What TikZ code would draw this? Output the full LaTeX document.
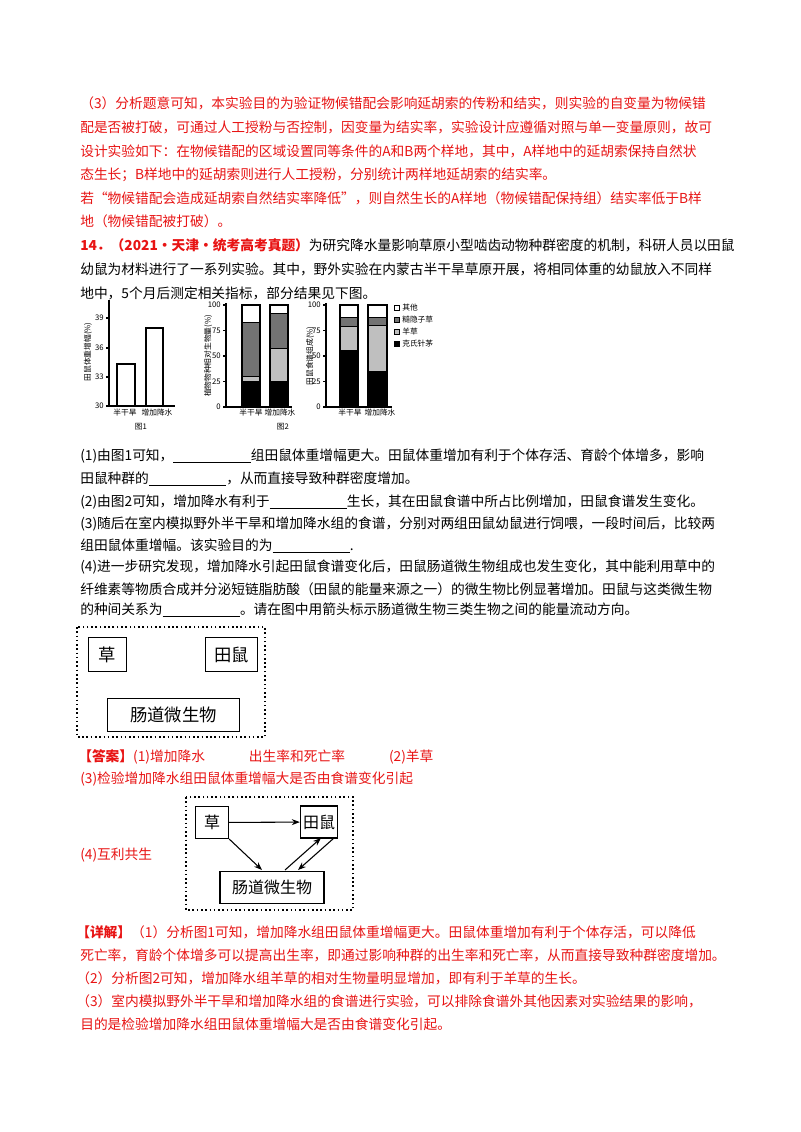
\documentclass[tikz,border=0pt]{standalone}
\usepackage{fontspec}
\setmainfont{Noto Sans CJK SC}
\usetikzlibrary{arrows.meta}
\definecolor{ans}{RGB}{232,20,20}
\newcommand{\blank}[1][58pt]{\underline{\hspace{#1}}}
\begin{document}
\begin{tikzpicture}[x=0.75pt,y=-0.75pt,
  txt/.style={anchor=west,inner sep=0pt,font=\fontsize{10.3}{12}\selectfont},
  rtxt/.style={txt,text=ans},
  sm/.style={inner sep=0pt,font=\fontsize{5.8}{6}\selectfont},
  bx/.style={draw,thick,minimum height=25pt,inner sep=2pt,font=\fontsize{13}{14}\selectfont},
  bxs/.style={draw,thick,minimum height=24pt,inner sep=2pt,font=\fontsize{12}{13}\selectfont},
  ar/.style={-{Stealth[length=6pt]},thick},
  dk/.style={fill=black!55,draw=black,thick},
  lt/.style={fill=black!25,draw=black,thick},
  bk/.style={fill=black,draw=black,thick},
  wt/.style={fill=white,draw=black,thick}]
\useasboundingbox (0,0) rectangle (800,1132);
\fill[white] (0,0) rectangle (800,1132);
% text
\node[rtxt] (l1) at (80,103) {（3）分析题意可知，本实验目的为验证物候错配会影响延胡索的传粉和结实，则实验的自变量为物候错};
\node[rtxt] (l2) at (80,127) {配是否被打破，可通过人工授粉与否控制，因变量为结实率，实验设计应遵循对照与单一变量原则，故可};
\node[rtxt] (l3) at (80,151) {设计实验如下：在物候错配的区域设置同等条件的A和B两个样地，其中，A样地中的延胡索保持自然状};
\node[rtxt] (l4) at (80,175) {态生长；B样地中的延胡索则进行人工授粉，分别统计两样地延胡索的结实率。};
\node[rtxt] (l5) at (80,198) {若“物候错配会造成延胡索自然结实率降低”，则自然生长的A样地（物候错配保持组）结实率低于B样};
\node[rtxt] (l6) at (80,221) {地（物候错配被打破）。};
\node[txt] (l7) at (80,245) {{\color{ans}\bfseries 14．（2021·天津·统考高考真题）}为研究降水量影响草原小型啮齿动物种群密度的机制，科研人员以田鼠};
\node[txt] (l8) at (80,269) {幼鼠为材料进行了一系列实验。其中，野外实验在内蒙古半干旱草原开展，将相同体重的幼鼠放入不同样};
\node[txt] (l9) at (80,293) {地中，5个月后测定相关指标，部分结果见下图。};
% chart 1
\draw[thick] (109,300) -- (109,406) -- (175,406);
\foreach \v/\yy in {39/318,36/348,33/377,30/406}{\draw[thick] (106,\yy)--(109,\yy); \node[sm,anchor=east] at (104,\yy) {\v};}
\draw[wt] (117,406) rectangle (135,364);
\draw[wt] (146,406) rectangle (163,328);
\node[sm,rotate=90] (y1) at (88,352) {田鼠体重增幅(\%)};
\node[sm] at (125,413) {半干旱}; \node[sm] at (157,413) {增加降水};
\node[sm] at (141,427) {图1};
% chart 2
\draw[thick] (226,303) -- (226,407) -- (292,407);
\foreach \v/\yy in {100/305,75/330.5,50/356,25/381.5,0/407}{\draw[thick] (223,\yy)--(226,\yy); \node[sm,anchor=east] at (221,\yy) {\v};}
\draw[bk] (242,407) rectangle (260,381.5); \draw[lt] (242,381.5) rectangle (260,376.4);
\draw[dk] (242,376.4) rectangle (260,322.3); \draw[wt] (242,322.3) rectangle (260,305);
\draw[bk] (270,407) rectangle (288,381.5); \draw[lt] (270,381.5) rectangle (288,348.9);
\draw[dk] (270,348.9) rectangle (288,313.2); \draw[wt] (270,313.2) rectangle (288,305);
\node[sm,rotate=90] at (208,356) {植物物种相对生物量(\%)};
\node[sm] at (251,413) {半干旱}; \node[sm] at (280,413) {增加降水};
\node[sm] at (283,427) {图2};
% chart 3
\draw[thick] (326,303) -- (326,407) -- (392,407);
\foreach \v/\yy in {100/305,75/330.5,50/356,25/381.5,0/407}{\draw[thick] (323,\yy)--(326,\yy); \node[sm,anchor=east] at (321,\yy) {\v};}
\draw[bk] (340,407) rectangle (358,350.9); \draw[lt] (340,350.9) rectangle (358,326.4);
\draw[dk] (340,326.4) rectangle (358,317.2); \draw[wt] (340,317.2) rectangle (358,305);
\draw[bk] (368,407) rectangle (387,371.3); \draw[lt] (368,371.3) rectangle (387,325.4);
\draw[dk] (368,325.4) rectangle (387,317.2); \draw[wt] (368,317.2) rectangle (387,305);
\node[sm,rotate=90] at (310,356) {田鼠食谱组成(\%)};
\node[sm] at (350,413) {半干旱}; \node[sm] at (380,413) {增加降水};
\draw[wt,thin] (394,305) rectangle (399,310); \node[sm,anchor=west] at (402,308) {其他};
\draw[dk,thin] (394,317) rectangle (399,322); \node[sm,anchor=west] at (402,320) {糙隐子草};
\draw[lt,thin] (394,329) rectangle (399,334); \node[sm,anchor=west] at (402,332) {羊草};
\draw[bk,thin] (394,341) rectangle (399,346); \node[sm,anchor=west] at (402,344) {克氏针茅};
% questions
\node[txt] (q1) at (80,456) {(1)由图1可知，\blank{}组田鼠体重增幅更大。田鼠体重增加有利于个体存活、育龄个体增多，影响};
\node[txt] (q2) at (80,479) {田鼠种群的\blank{}，从而直接导致种群密度增加。};
\node[txt] (q3) at (80,502) {(2)由图2可知，增加降水有利于\blank{}生长，其在田鼠食谱中所占比例增加，田鼠食谱发生变化。};
\node[txt] (q4) at (80,524) {(3)随后在室内模拟野外半干旱和增加降水组的食谱，分别对两组田鼠幼鼠进行饲喂，一段时间后，比较两};
\node[txt] (q5) at (80,546) {组田鼠体重增幅。该实验目的为\blank{}.};
\node[txt] (q6) at (80,567) {(4)进一步研究发现，增加降水引起田鼠食谱变化后，田鼠肠道微生物组成也发生变化，其中能利用草中的};
\node[txt] (q7) at (80,589) {纤维素等物质合成并分泌短链脂肪酸（田鼠的能量来源之一）的微生物比例显著增加。田鼠与这类微生物};
\node[txt] (q8) at (80,610) {的种间关系为\blank{}。请在图中用箭头标示肠道微生物三类生物之间的能量流动方向。};
% diagram 1
\draw[very thick,dotted] (77,627) rectangle (265,737);
\node[bx,minimum width=29pt] (c1) at (107.5,654.5) {草};
\node[bx,minimum width=39pt] (t1) at (231.5,654.5) {田鼠};
\node[bx,minimum width=99pt] (m1) at (173.5,715) {肠道微生物};
% answer
\node[rtxt] (a1) at (78,757) {{\bfseries 【答案】}(1)增加降水\hspace{3.2em}出生率和死亡率\hspace{3.2em}(2)羊草};
\node[rtxt] (a2) at (80,779) {(3)检验增加降水组田鼠体重增幅大是否由食谱变化引起};
\node[rtxt] (a3) at (80,855) {(4)互利共生};
\draw[very thick,dotted] (186,797) rectangle (353,910);
\node[bxs,minimum width=25pt] (c2) at (212,822.5) {草};
\node[bxs,minimum width=27pt] (t2) at (319,822) {田鼠};
\node[bxs,minimum width=78pt] (m2) at (272,887.5) {肠道微生物};
\draw[ar] (c2) -- (t2);
\draw[ar] (c2.south east) -- (262,870);
\draw[ar] (285,870) -- (321,838);
\draw[ar] (334,838) -- (298,870);
% explanation
\node[rtxt] (e1) at (76,932) {{\bfseries 【详解】}（1）分析图1可知，增加降水组田鼠体重增幅更大。田鼠体重增加有利于个体存活，可以降低};
\node[rtxt] (e2) at (80,955) {死亡率，育龄个体增多可以提高出生率，即通过影响种群的出生率和死亡率，从而直接导致种群密度增加。};
\node[rtxt] (e3) at (76,978) {（2）分析图2可知，增加降水组羊草的相对生物量明显增加，即有利于羊草的生长。};
\node[rtxt] (e4) at (76,1001) {（3）室内模拟野外半干旱和增加降水组的食谱进行实验，可以排除食谱外其他因素对实验结果的影响，};
\node[rtxt] (e5) at (80,1024) {目的是检验增加降水组田鼠体重增幅大是否由食谱变化引起。};
\end{tikzpicture}
\end{document}
